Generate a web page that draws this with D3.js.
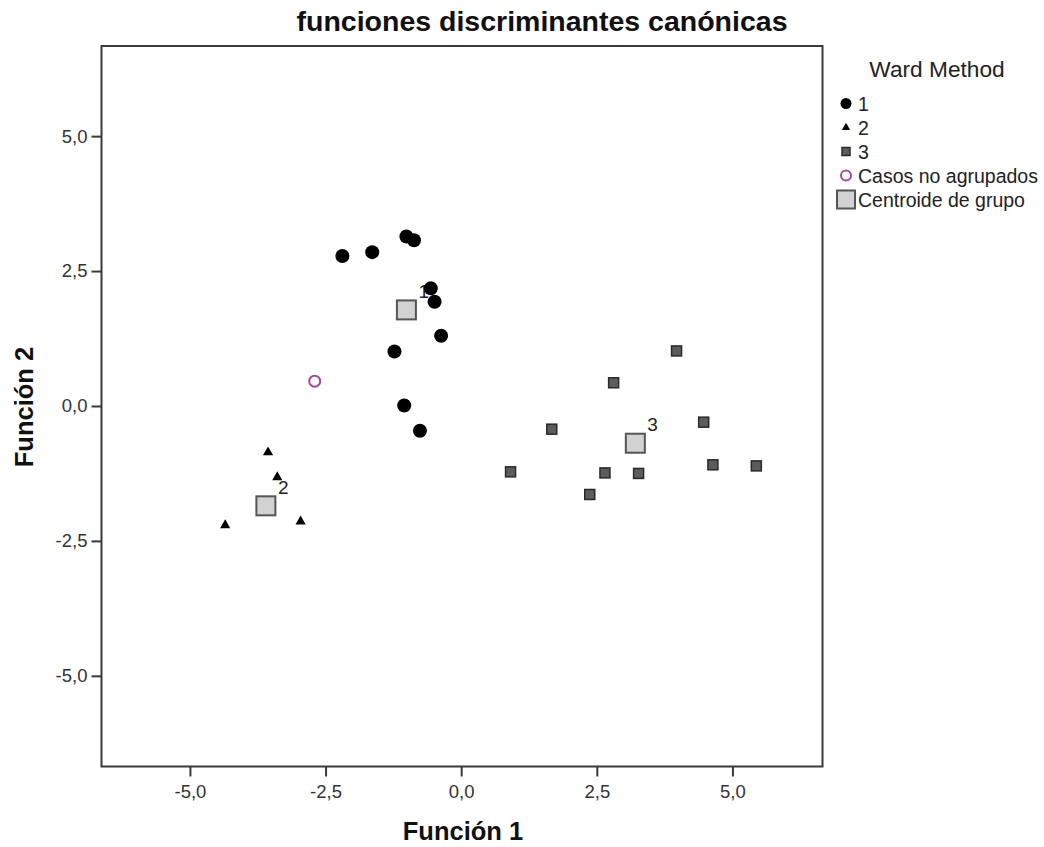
<!DOCTYPE html>
<html>
<head>
<meta charset="utf-8">
<script src="https://cdnjs.cloudflare.com/ajax/libs/d3/7.8.5/d3.min.js"></script>
<style>
	body { margin: 0; background: #fff; }
	text { font-family: "Liberation Sans", Arial, sans-serif; }
</style>
</head>
<body>
<div class="diagram"></div>
<script>
var width = 1044, height = 847;

// Ward Method groups, [funcion 1, funcion 2]
var group1 = [[-2.19, 2.78], [-1.64, 2.85], [-1.01, 3.14], [-0.87, 3.07], [-0.56, 2.18],
	[-0.49, 1.93], [-0.37, 1.30], [-1.23, 1.01], [-1.05, 0.01], [-0.76, -0.46]];
var group2 = [[-3.56, -0.86], [-3.39, -1.32], [-4.35, -2.21], [-2.96, -2.14]];
var group3 = [[3.97, 1.02], [2.81, 0.43], [1.67, -0.43], [4.47, -0.30], [0.91, -1.22],
	[2.65, -1.24], [3.27, -1.25], [4.64, -1.09], [5.44, -1.11], [2.37, -1.64]];
var ungrouped = [[-2.70, 0.46]];
var centroids = [[-1.01, 1.78], [-3.60, -1.85], [3.21, -0.69]];
var centroidLabels = ['1', '2', '3'];

var ticks = [-5, -2.5, 0, 2.5, 5];
var legendLabels = ['1', '2', '3', 'Casos no agrupados', 'Centroide de grupo'];

var plotLeft = 101.5, plotRight = 822.5, plotTop = 46, plotBottom = 766.5;

var svg = d3.select('.diagram')
	.append('svg')
	.attr('width', width)
	.attr('height', height);

var x = d3.scaleLinear().domain([-6.63, 6.66]).range([plotLeft, plotRight]);
var y = d3.scaleLinear().domain([-6.68, 6.67]).range([plotBottom, plotTop]);

var fmt = d3.formatLocale({ decimal: ',', thousands: '.', grouping: [3], currency: ['', ''], minus: '-' }).format('.1f');

var xAxis = svg.append('g')
	.attr('transform', 'translate(0,' + plotBottom + ')')
	.call(d3.axisBottom(x).tickValues(ticks).tickFormat(fmt).tickSize(10).tickPadding(8));

var yAxis = svg.append('g')
	.attr('transform', 'translate(' + plotLeft + ',0)')
	.call(d3.axisLeft(y).tickValues(ticks).tickFormat(fmt).tickSize(10).tickPadding(4));

svg.selectAll('.domain').remove();
svg.selectAll('.tick line').attr('stroke', '#3a3a3a').attr('stroke-width', 2);
svg.selectAll('.tick text')
	.attr('fill', '#333')
	.style('font-size', '18.5px')
	.style('font-family', '"Liberation Sans", Arial, sans-serif');

// frame
svg.append('rect')
	.attr('x', plotLeft)
	.attr('y', plotTop)
	.attr('width', plotRight - plotLeft)
	.attr('height', plotBottom - plotTop)
	.attr('fill', 'none')
	.attr('stroke', '#3a3a3a')
	.attr('stroke-width', 2);

// titles
svg.append('text')
	.attr('x', 542)
	.attr('y', 31)
	.attr('text-anchor', 'middle')
	.style('font-size', '28.5px')
	.style('font-weight', 'bold')
	.attr('fill', '#111')
	.text('funciones discriminantes canónicas');

svg.append('text')
	.attr('x', 463)
	.attr('y', 840)
	.attr('text-anchor', 'middle')
	.style('font-size', '25.5px')
	.style('font-weight', 'bold')
	.attr('fill', '#111')
	.text('Función 1');

svg.append('text')
	.attr('transform', 'translate(33,407) rotate(-90)')
	.attr('text-anchor', 'middle')
	.style('font-size', '25.5px')
	.style('font-weight', 'bold')
	.attr('fill', '#111')
	.text('Función 2');

// centroids
svg.append('g')
	.selectAll('rect')
	.data(centroids)
	.enter().append('rect')
	.attr('x', function(d) { return x(d[0]) - 9.5 })
	.attr('y', function(d) { return y(d[1]) - 9.5 })
	.attr('width', 19)
	.attr('height', 19)
	.attr('fill', '#d2d2d2')
	.attr('stroke', '#555')
	.attr('stroke-width', 2);

svg.append('g')
	.selectAll('text')
	.data(centroids)
	.enter().append('text')
	.attr('x', function(d) { return x(d[0]) + 12 })
	.attr('y', function(d) { return y(d[1]) - 12 })
	.style('font-size', '19px')
	.attr('fill', '#222')
	.text(function(d, i) { return centroidLabels[i] });

var marks = svg.append('g');

marks.selectAll('.g1')
	.data(group1)
	.enter().append('circle')
	.attr('class', 'g1')
	.attr('cx', function(d) { return x(d[0]) })
	.attr('cy', function(d) { return y(d[1]) })
	.attr('r', 7)
	.attr('fill', '#000');

var tri = d3.symbol().type(d3.symbolTriangle).size(45);

marks.selectAll('.g2')
	.data(group2)
	.enter().append('path')
	.attr('class', 'g2')
	.attr('d', tri)
	.attr('transform', function(d) { return 'translate(' + x(d[0]) + ',' + y(d[1]) + ')' })
	.attr('fill', '#000');

marks.selectAll('.g3')
	.data(group3)
	.enter().append('rect')
	.attr('class', 'g3')
	.attr('x', function(d) { return x(d[0]) - 5 })
	.attr('y', function(d) { return y(d[1]) - 5 })
	.attr('width', 10)
	.attr('height', 10)
	.attr('fill', '#5c5c5c')
	.attr('stroke', '#2a2a2a')
	.attr('stroke-width', 1.5);

marks.selectAll('.ung')
	.data(ungrouped)
	.enter().append('circle')
	.attr('class', 'ung')
	.attr('cx', function(d) { return x(d[0]) })
	.attr('cy', function(d) { return y(d[1]) })
	.attr('r', 5.5)
	.attr('fill', '#fff')
	.attr('stroke', '#a24aa2')
	.attr('stroke-width', 2);

// legend
svg.append('text')
	.attr('x', 937)
	.attr('y', 77)
	.attr('text-anchor', 'middle')
	.style('font-size', '22.7px')
	.attr('fill', '#222')
	.text('Ward Method');

var legend = svg.append('g')
	.selectAll('g')
	.data(legendLabels)
	.enter().append('g')
	.attr('transform', function(d, i) { return 'translate(846,' + (103.5 + i * 24) + ')' });

legend.append('text')
	.attr('x', 12)
	.attr('y', 7)
	.style('font-size', '19.5px')
	.attr('fill', '#222')
	.text(function(d) { return d });

legend.each(function(d, i) {
	var g = d3.select(this);
	if (i == 0) g.append('circle').attr('r', 5.5).attr('fill', '#000');
	if (i == 1) g.append('path').attr('d', d3.symbol().type(d3.symbolTriangle).size(30)).attr('fill', '#000');
	if (i == 2) g.append('rect').attr('x', -4).attr('y', -4).attr('width', 8).attr('height', 8)
		.attr('fill', '#5c5c5c').attr('stroke', '#2a2a2a').attr('stroke-width', 1.5);
	if (i == 3) g.append('circle').attr('r', 5).attr('fill', '#fff').attr('stroke', '#a24aa2').attr('stroke-width', 2);
	if (i == 4) g.append('rect').attr('x', -9).attr('y', -9).attr('width', 18).attr('height', 18)
		.attr('fill', '#d2d2d2').attr('stroke', '#555').attr('stroke-width', 2);
});
</script>
</body>
</html>
